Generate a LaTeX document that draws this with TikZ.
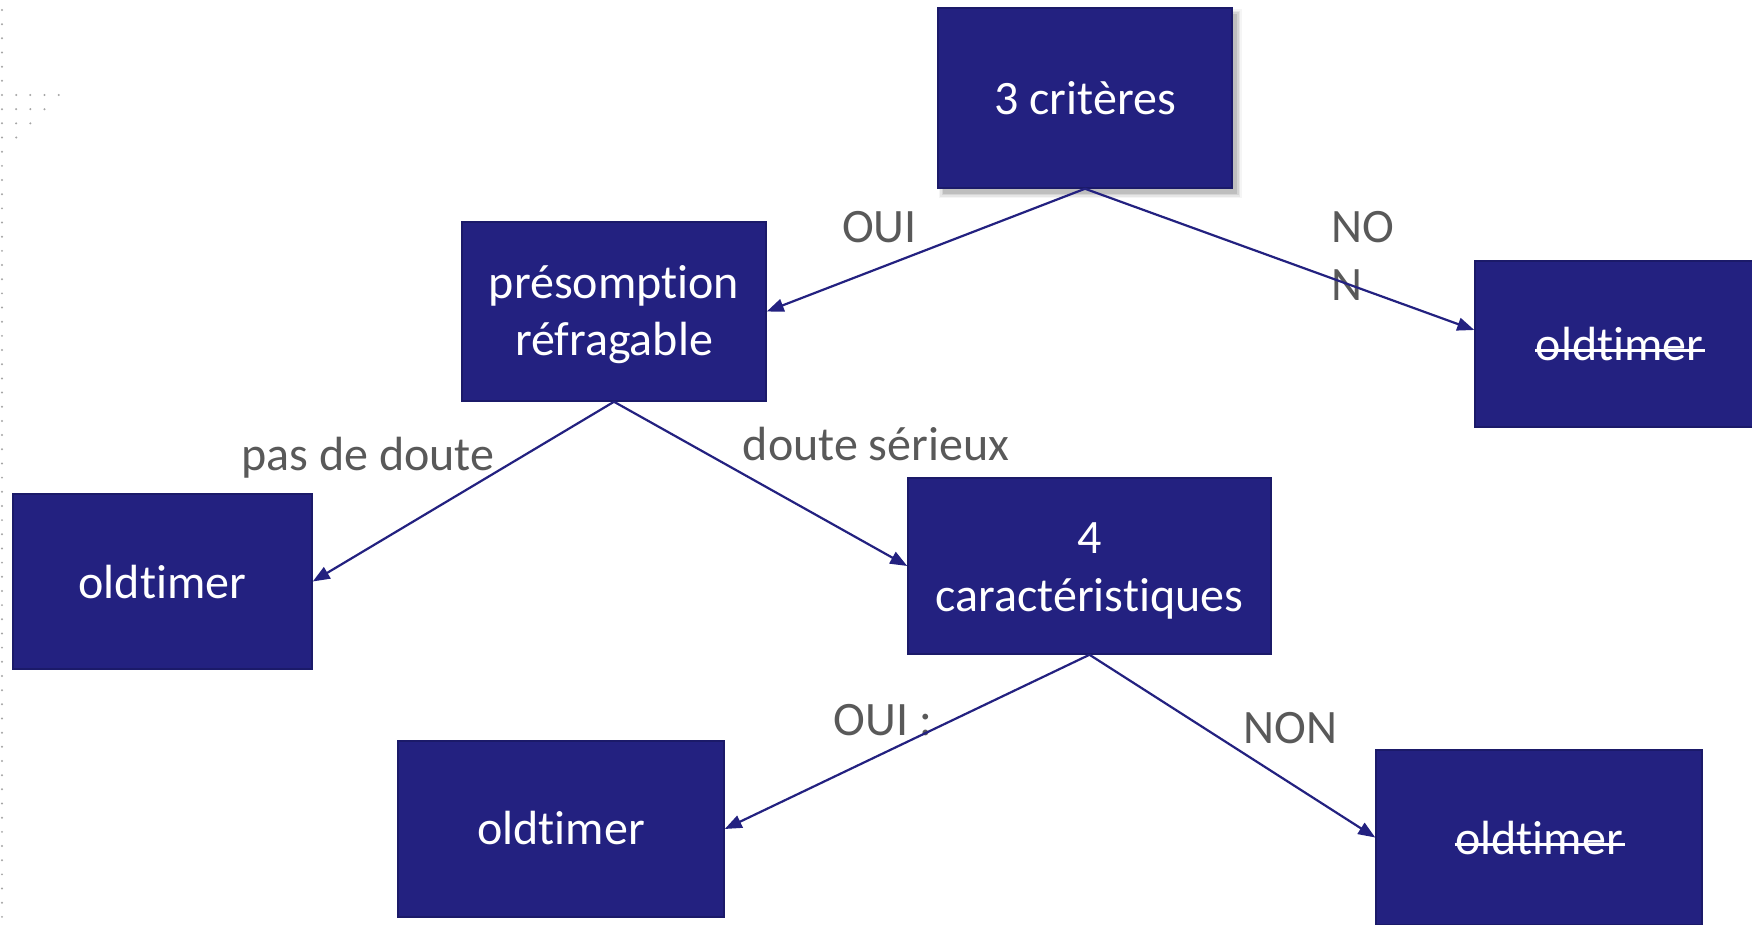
\documentclass[tikz,border=0pt]{standalone}
\usepackage{fontspec}
\setmainfont{Carlito}[Ligatures=NoCommon, RawFeature={-liga;-clig;-dlig}]
\usetikzlibrary{arrows.meta}
\definecolor{navy}{RGB}{35,33,128}
\definecolor{navyline}{RGB}{27,26,105}
\definecolor{lblgray}{RGB}{89,89,89}
\definecolor{dotgray}{RGB}{165,165,165}
\newcommand\strk[1]{\leavevmode\setbox0=\hbox{#1}\rlap{\kern-0.5pt\vrule width\dimexpr\wd0+2.5pt\relax height 12pt depth -9.3pt}\box0}
\tikzset{
  box/.style={rectangle, fill=navy, draw=navyline, line width=1.5pt, inner sep=0pt},
  boxtxt/.style={text=white, inner sep=0pt, anchor=base, font=\fontsize{48}{57.6}\selectfont},
  lbl/.style={text=lblgray, inner sep=0pt, anchor=base, font=\fontsize{48}{57.6}\selectfont},
  conn/.style={draw=navy, line width=2.2pt, -{Triangle[length=17pt,width=13pt]}},
}
\begin{document}
\begin{tikzpicture}[x=1pt,y=1pt]
\clip (0,0) rectangle (1752,925);
\fill[white] (0,0) rectangle (1752,925);
% dotted decoration
\foreach \i in {0,...,64} \fill[dotgray] (2,{915-14.17*\i}) circle (1.1);
\foreach \r/\n in {6/4,7/3,8/2,9/1} {
  \foreach \k in {1,...,\n} \fill[dotgray] ({2+14.17*\k},{915-14.17*\r}) circle (1.1);
}
% shadow of top box
\foreach \d/\o in {0/0.10,1.5/0.08,3/0.06,4.5/0.04}
  \fill[black, opacity=\o] ({943-\d},{731-\d}) rectangle ({1237+\d},{911+\d});
% boxes
\node[box, minimum width=294pt, minimum height=180pt] (A) at (1085,827) {};
\node[box, minimum width=304pt, minimum height=179pt] (B) at (614,613.5) {};
\node[box, minimum width=289pt, minimum height=166pt] (C) at (1619.5,581) {};
\node[box, minimum width=299pt, minimum height=175pt] (D) at (162.5,343.5) {};
\node[box, minimum width=363pt, minimum height=176pt] (E) at (1089.5,359) {};
\node[box, minimum width=326pt, minimum height=176pt] (F) at (561,96) {};
\node[box, minimum width=326pt, minimum height=175pt] (G) at (1539,87.5) {};
% box texts
\node[boxtxt] (At) at (1085,810) {3 critères};
\node[boxtxt] (Bt1) at (614,626) {présomption};
\node[boxtxt] (Bt2) at (614,569) {réfragable};
\node[boxtxt] (Ct) at (1619.5,564) {\strk{oldtimer}};
\node[boxtxt] (Dt) at (162.5,326) {oldtimer};
\node[boxtxt] (Et1) at (1089.5,371) {4};
\node[boxtxt] (Et2) at (1089.5,313) {caractéristiques};
\node[boxtxt] (Ft) at (561,80) {oldtimer};
\node[boxtxt] (Gt) at (1539,70) {\strk{oldtimer}};
% labels
\node[lbl] (l1) at (879.5,682) {OUI};
\node[lbl, anchor=base west] (l2a) at (1331,682) {NO};
\node[lbl, anchor=base west] (l2b) at (1331,624) {N};
\node[lbl] (l3) at (368,454) {pas de doute};
\node[lbl] (l4) at (876,464) {doute sérieux};
\node[lbl] (l5) at (883,189) {OUI :};
\node[lbl] (l6) at (1290.5,181) {NON};
% connectors
\draw[conn] (A.south) -- (B.east);
\draw[conn] (A.south) -- ([yshift=14pt]C.west);
\draw[conn] (B.south) -- (D.east);
\draw[conn] (B.south) -- (E.west);
\draw[conn] (E.south) -- (F.east);
\draw[conn] (E.south) -- (G.west);
\end{tikzpicture}
\end{document}
